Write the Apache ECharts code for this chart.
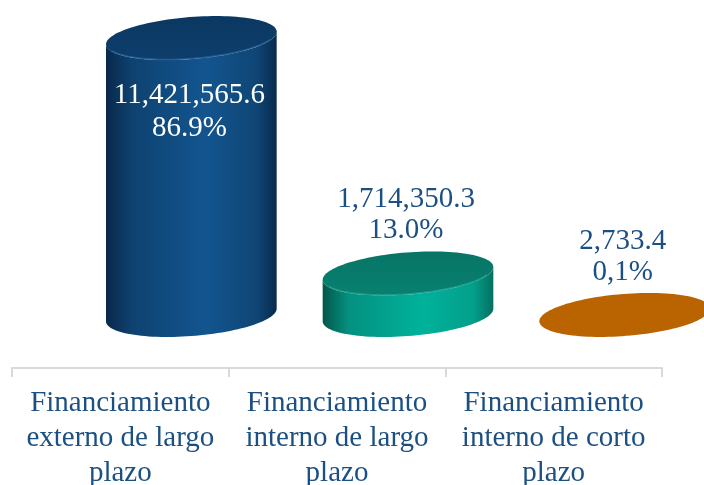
<!DOCTYPE html>
<html>
<head>
<meta charset="utf-8">
<script src="https://cdn.jsdelivr.net/npm/echarts@6/dist/echarts.min.js"></script>
<style>
html, body { margin: 0; padding: 0; background: #fff; }
#chart { width: 704px; height: 485px; }
</style>
</head>
<body>
<div id="chart"></div>
<script>
// datos
var categories = [
    'Financiamiento\nexterno de largo\nplazo',
    'Financiamiento\ninterno de largo\nplazo',
    'Financiamiento\ninterno de corto\nplazo'
];
var values = [11421565.6, 1714350.3, 2733.4];
var shares = ['86.9%', '13.0%', '0,1%'];

// estilos de cada cilindro
var palette = [
    { side: ['#08284a', '#0e4270', '#13558f', '#0f4676', '#082a4c'], top: ['#0b3862', '#0d3e6c'], rim: '#3a78b0', text: '#ffffff' },
    { side: ['#03574a', '#049080', '#00b29b', '#03a08b', '#057060'], top: ['#077566', '#088070'], rim: '#2fb5a0', text: '#1c4f82' },
    { side: ['#8f4d00', '#b05c00', '#c06a00', '#b96400', '#8f4d00'], top: ['#b96400', '#b96400'], rim: null, text: '#1c4f82' }
];

var DX = 71, DY = -53, RY = 21, PHI = 4.5 * Math.PI / 180;

function ellipsePt(cx, cy, rx, ry, t) {
    return [
        cx + rx * Math.cos(t) * Math.cos(PHI) + ry * Math.sin(t) * Math.sin(PHI),
        cy - rx * Math.cos(t) * Math.sin(PHI) + ry * Math.sin(t) * Math.cos(PHI)
    ];
}
function arc(cx, cy, rx, ry, t0, t1, n) {
    var pts = [];
    for (var i = 0; i <= n; i++) {
        pts.push(ellipsePt(cx, cy, rx, ry, t0 + (t1 - t0) * i / n));
    }
    return pts;
}

function renderItem(params, api) {
    var idx = api.value(0);
    var base = api.coord([idx, 0]);
    var top = api.coord([idx, api.value(1)]);
    var cx = base[0] + DX;
    var by = base[1] + DY;
    var ty = top[1] + DY;
    var rx = api.size([1, 0])[0] * 0.395;
    var c = palette[idx];
    var tt = Math.atan2(RY * Math.sin(PHI), rx * Math.cos(PHI));
    var children = [];

    if (by - ty > 0.5) {
        var body = arc(cx, by, rx, RY, tt, tt + Math.PI, 60)
            .concat(arc(cx, ty, rx, RY, tt + Math.PI, tt, 60));
        children.push({
            type: 'polygon',
            shape: { points: body },
            style: {
                fill: new echarts.graphic.LinearGradient(0, 0, 1, 0, [
                    { offset: 0, color: c.side[0] },
                    { offset: 0.15, color: c.side[1] },
                    { offset: 0.58, color: c.side[2] },
                    { offset: 0.88, color: c.side[3] },
                    { offset: 1, color: c.side[4] }
                ])
            }
        });
    }
    children.push({
        type: 'polygon',
        shape: { points: arc(cx, ty, rx, RY, 0, Math.PI * 2, 120) },
        style: {
            fill: new echarts.graphic.LinearGradient(0, 0, 0, 1, [
                { offset: 0, color: c.top[0] },
                { offset: 1, color: c.top[1] }
            ])
        }
    });
    if (c.rim && by - ty > 0.5) {
        children.push({
            type: 'polyline',
            shape: { points: arc(cx, ty, rx - 1, RY - 0.5, tt + 0.35, tt + Math.PI - 0.35, 60) },
            style: { stroke: c.rim, lineWidth: 1.5, opacity: 0.55, fill: null }
        });
    }

    var valText = api.value(1).toLocaleString('en-US', { minimumFractionDigits: 1, maximumFractionDigits: 1 });
    var y1, y2;
    if (by - ty > 120) {
        y1 = ty + 57; y2 = ty + 90;
    } else {
        y1 = ty - 74; y2 = ty - 43;
    }
    [valText, shares[idx]].forEach(function (s, k) {
        children.push({
            type: 'text',
            style: {
                text: s,
                x: cx - 2,
                y: k === 0 ? y1 : y2,
                fill: c.text,
                fontSize: 29,
                fontFamily: 'Liberation Serif',
                align: 'center',
                verticalAlign: 'middle'
            }
        });
    });
    return { type: 'group', children: children };
}

var chart = echarts.init(document.getElementById('chart'));
chart.setOption({
    animation: false,
    grid: { left: 12, right: 42, top: 77, bottom: 117, containLabel: false, outerBoundsMode: 'none' },
    xAxis: {
        type: 'category',
        data: categories,
        axisLine: { lineStyle: { color: '#d9d9d9', width: 2 } },
        axisTick: { show: true, length: 9, lineStyle: { color: '#d9d9d9', width: 2 } },
        axisLabel: {
            color: '#1c4f82',
            fontSize: 29,
            lineHeight: 35,
            fontFamily: 'Liberation Serif',
            margin: 18,
            interval: 0
        }
    },
    yAxis: { type: 'value', min: 0, max: 12000000, show: false, splitLine: { show: false } },
    series: [{
        type: 'custom',
        clip: false,
        renderItem: renderItem,
        encode: { x: 0, y: 1 },
        data: values.map(function (v, i) { return [i, v]; })
    }]
});
</script>
</body>
</html>
